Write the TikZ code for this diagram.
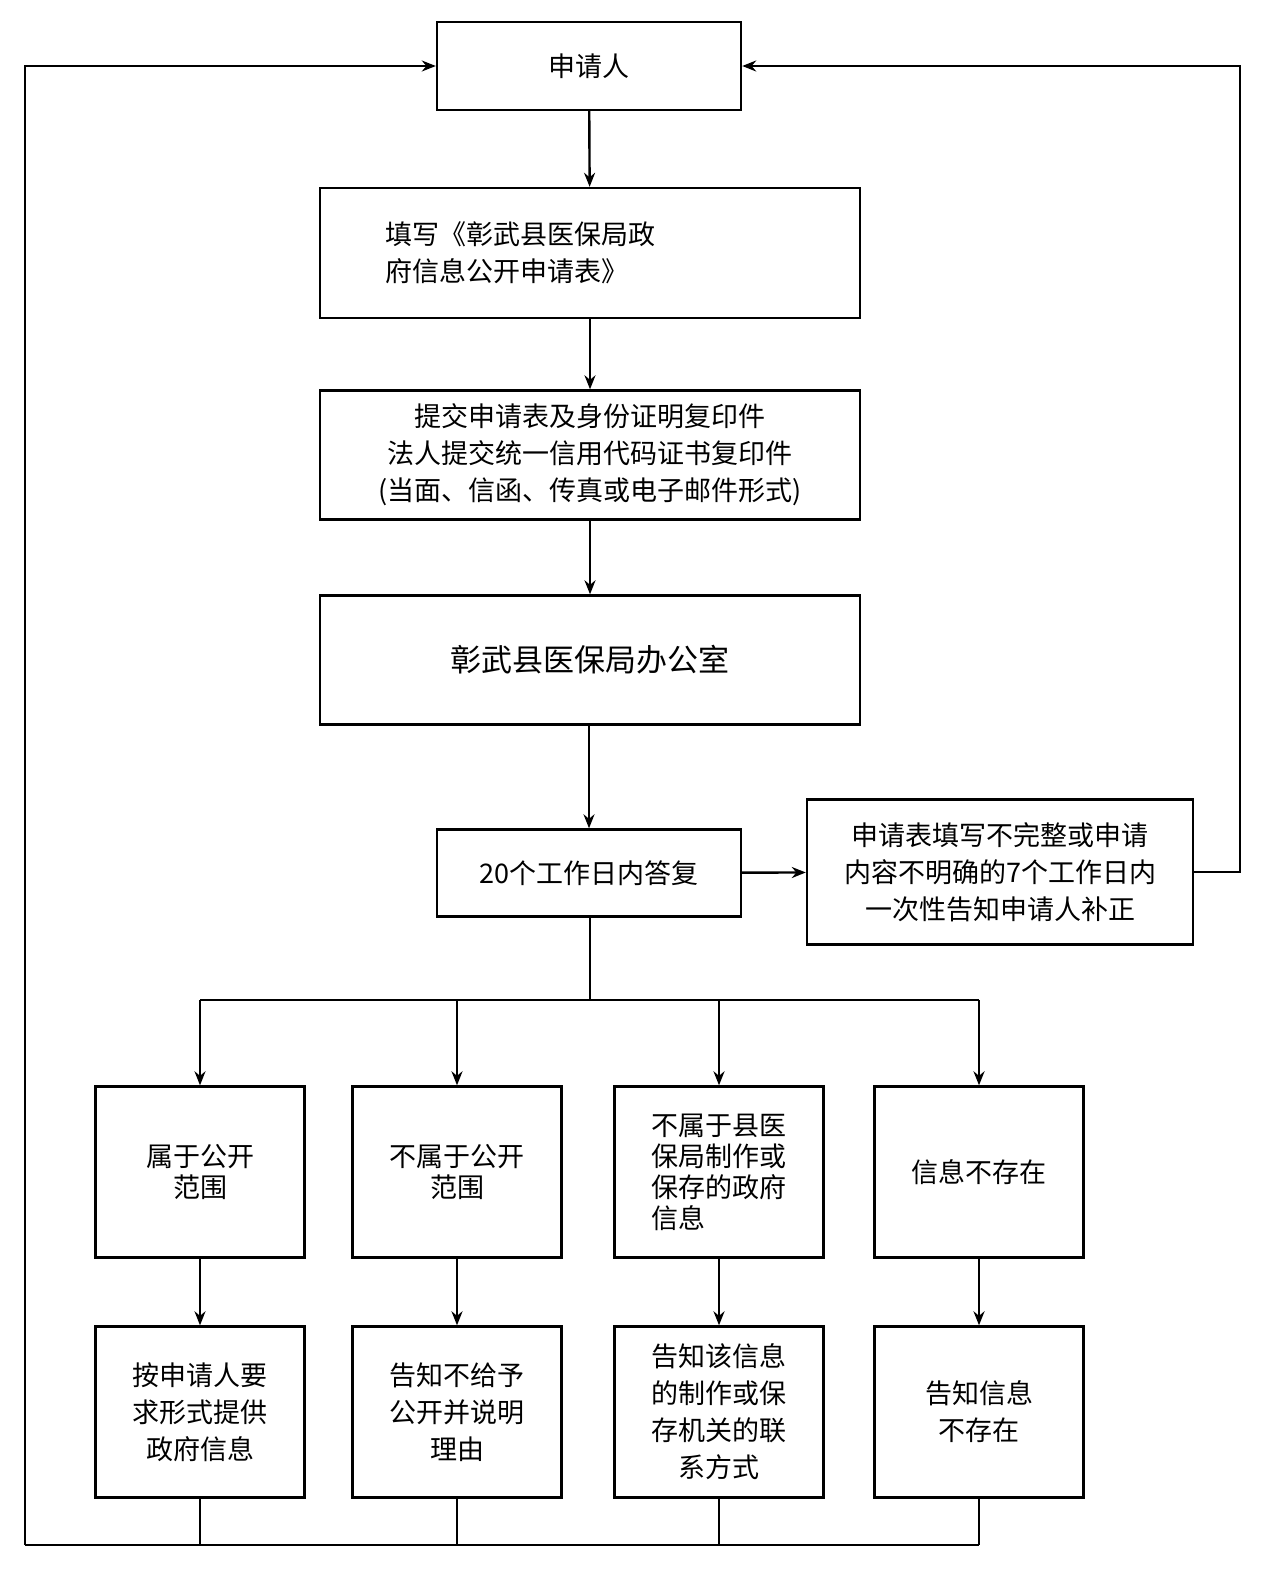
\documentclass[tikz,border=0pt]{standalone}
\usepackage{fontspec}
\setmainfont{Noto Sans CJK SC}
\usetikzlibrary{arrows.meta}
\begin{document}
\begin{tikzpicture}[x=1pt,y=-1pt,
 box/.style={draw,line width=2.4pt,inner sep=0pt,align=center,font=\fontsize{27}{37}\selectfont},
 ln/.style={line width=2.4pt},
 ar/.style={ln,-{Stealth[length=14pt,width=11pt]}}]
\useasboundingbox[fill=white] (0,0) rectangle (1266,1582);
\node[box,minimum width=304pt,minimum height=88pt] (a) at (589,66) {申请人};
\node[box,minimum width=540pt,minimum height=130pt,align=left,text width=410pt] (b) at (590,253) {填写《彰武县医保局政\\府信息公开申请表》};
\node[box,minimum width=540pt,minimum height=129pt] (c) at (590,455) {提交申请表及身份证明复印件\\法人提交统一信用代码证书复印件\\(当面、信函、传真或电子邮件形式)};
\node[box,minimum width=540pt,minimum height=129pt,font=\fontsize{31}{37}\selectfont] (d) at (590,660) {彰武县医保局办公室};
\node[box,minimum width=304pt,minimum height=87pt] (e) at (589,873) {20个工作日内答复};
\node[box,minimum width=386pt,minimum height=145pt] (f) at (1000,872) {申请表填写不完整或申请\\内容不明确的7个工作日内\\一次性告知申请人补正};
\foreach \i/\x/\t/\u/\al in {1/200/{属于公开\\范围}/{按申请人要\\求形式提供\\政府信息}/center,2/457/{不属于公开\\范围}/{告知不给予\\公开并说明\\理由}/center,3/719/{不属于县医\\保局制作或\\保存的政府\\信息}/{告知该信息\\的制作或保\\存机关的联\\系方式}/left,4/979/{信息不存在}/{告知信息\\不存在}/center}{
 \node[box,minimum width=209pt,minimum height=171pt,align=\al,font=\fontsize{27}{31}\selectfont] (p\i) at (\x,1172) {\t};
 \node[box,minimum width=209pt,minimum height=171pt] (q\i) at (\x,1412) {\u};
 \draw[ar] (p\i) -- (q\i);
 \coordinate (t\i) at (\x,1000);
 \coordinate (s\i) at (\x,1545);
 \draw[ar] (t\i) -- (p\i);
 \draw[ln] (q\i) -- (s\i);
}
\draw[ar] (a) -- (b);
\draw[ar] (b) -- (c);
\draw[ar] (c) -- (d);
\draw[ar] (d.south -| e.north) -- (e);
\draw[ar] (e) -- (f);
\coordinate (m) at (590,1000);
\draw[ln] (e.south -| m) -- (m);
\draw[ln] (t1) -- (t4);
\coordinate (bl) at (25,1545);
\draw[ln] (s4) -- (bl);
\draw[ar] (bl) -- (25,66) -- (a.west);
\draw[ar] (f.east) -- (1240,872) -- (1240,66) -- (a.east);
\end{tikzpicture}
\end{document}
